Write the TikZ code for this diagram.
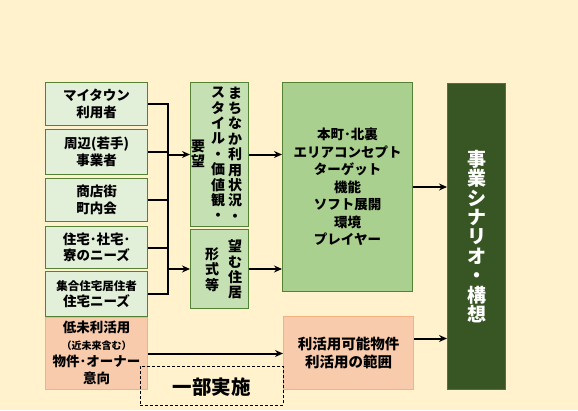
\documentclass[tikz,border=0pt]{standalone}
\usepackage{fontspec}
\setmainfont{Noto Sans CJK JP}
\usetikzlibrary{arrows.meta}
\definecolor{bgc}{HTML}{FFF2CC}
\definecolor{lgfill}{HTML}{E2EFD9}
\definecolor{mgfill}{HTML}{C5E0B3}
\definecolor{bgfill}{HTML}{A9D08E}
\definecolor{gborder}{HTML}{548235}
\definecolor{dkfill}{HTML}{375623}
\definecolor{orfill}{HTML}{F8CBAD}
\definecolor{orborder}{HTML}{F4B183}
\tikzset{
  box/.style={anchor=north west, inner sep=0pt, line width=1pt},
  leftbox/.style={box, fill=lgfill, draw=gborder, minimum width=102pt},
  midbox/.style={box, fill=mgfill, draw=gborder, minimum width=58pt},
  orbox/.style={box, fill=orfill, draw=orborder},
  conn/.style={line width=2pt, draw=black},
  arr/.style={conn, -{Stealth[length=8pt,width=7pt]}},
  txt/.style={align=center, inner sep=0pt, font=\bfseries\fontsize{13.5}{16.5}\selectfont},
  vtxt/.style={align=center, inner sep=0pt, font=\bfseries\fontsize{14}{15.4}\selectfont},
}
\begin{document}
\begin{tikzpicture}[x=1pt,y=-1pt]
\fill[bgc] (0,0) rectangle (578,410);
\useasboundingbox (0,0) rectangle (578,410);

% left boxes
\node[leftbox, minimum height=43pt] (L1) at (45,82) {};
\node[leftbox, minimum height=45pt] (L2) at (45,129) {};
\node[leftbox, minimum height=43pt] (L3) at (45,178) {};
\node[leftbox, minimum height=42pt] (L4) at (45,226) {};
\node[leftbox, minimum height=45pt] (L5) at (45,271) {};
\node[orbox, minimum width=102pt, minimum height=72pt] (L6) at (45,317) {};

\node[txt] (t1) at (L1.center) {マイタウン\\利用者};
\node[txt] (t2) at (L2.center) {周辺(若手)\\事業者};
\node[txt] (t3) at (L3.center) {商店街\\町内会};
\node[txt] (t4) at (L4.center) {住宅･社宅･\\寮のニーズ};
\node[txt] (t5) at (L5.center) {{\fontsize{11.5}{16.5}\selectfont 集合住宅居住者}\\住宅ニーズ};
\node[txt, font=\bfseries\fontsize{13.5}{17}\selectfont] (t6) at ([yshift=1pt]L6.center) {低未利活用\\{\fontsize{10}{12}\selectfont （近未来含む）}\\物件･オーナー\\意向};

% middle boxes
\node[midbox, minimum height=144pt] (M1) at (190,82) {};
\node[midbox, minimum height=79pt] (M2) at (190,229) {};
\node[vtxt] (m1a) at (235,154) {ま\\ち\\な\\か\\利\\用\\状\\況\\・};
\node[vtxt] (m1b) at (218,154) {ス\\タ\\イ\\ル\\・\\価\\値\\観\\・};
\node[vtxt] (m1c) at (198,154) {要\\望};
\node[vtxt] (m2a) at (235,269.5) {望\\む\\住\\居};
\node[vtxt] (m2b) at (212,269.5) {形\\式\\等};

% big green
\node[box, fill=bgfill, draw=gborder, minimum width=130pt, minimum height=209pt] (G) at (282,82) {};
\node[txt, font=\bfseries\fontsize{13.5}{17.5}\selectfont] (gt) at (G.center) {本町･北裏\\エリアコンセプト\\ターゲット\\機能\\ソフト展開\\環境\\プレイヤー};

% dark box
\node[box, fill=dkfill, draw=dkfill!85!white, minimum width=58pt, minimum height=306pt] (D) at (447,83) {};
\node[align=center, inner sep=0pt, text=white, font=\bfseries\fontsize{19}{19.4}\selectfont] (dt) at (D.center) {事\\業\\シ\\ナ\\リ\\オ\\・\\構\\想};

% bottom orange
\node[orbox, minimum width=130pt, minimum height=73pt] (O2) at (283,316) {};
\node[txt, font=\bfseries\fontsize{14.5}{18}\selectfont] (ot) at (O2.center) {利活用可能物件\\利活用の範囲};

% dashed box
\node[box, draw=black, line width=0.8pt, dash pattern=on 3pt off 2pt, minimum width=143pt, minimum height=39pt] (X) at (140,366) {};
\node[inner sep=0pt, font=\bfseries\fontsize{19.5}{22}\selectfont] (xt) at ([yshift=-1pt]X.center) {一部実施};

% connectors
\coordinate (bus) at (168,0);
\foreach \n in {L1,L2,L3,L4,L5} {
  \draw[conn] (\n.east) -- (\n.east -| bus);
}
\draw[conn, line cap=rect] (L1.east -| bus) -- (L5.east -| bus);
\draw[arr] (M1.west -| bus) -- (M1.west);
\draw[arr] (M2.west -| bus) -- (M2.west);
\draw[arr] (M1.east) -- (M1.east -| G.west);
\draw[arr] (M2.east) -- (M2.east -| G.west);
\draw[arr] (G.east) -- (G.east -| D.west);
\draw[arr] ([yshift=14.5pt]O2.east) -- ([yshift=14.5pt]O2.east -| D.west);
\draw[arr] (L6.east) -- (L6.east -| O2.west);
\end{tikzpicture}
\end{document}
